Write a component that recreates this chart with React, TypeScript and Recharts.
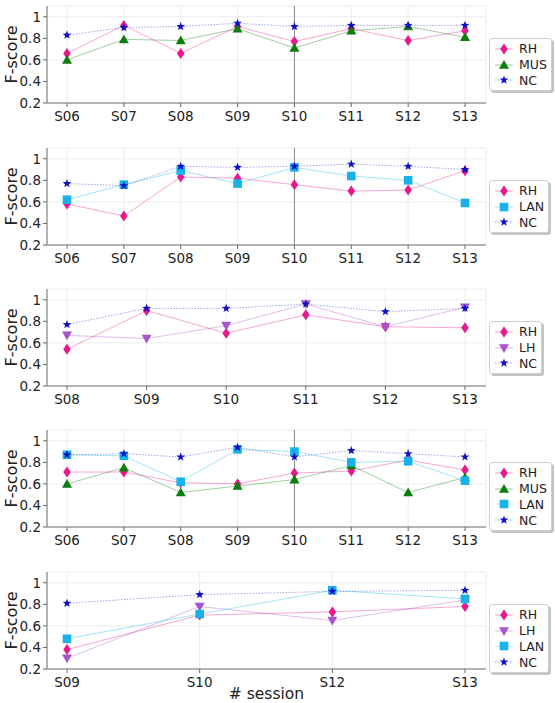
import { LineChart, Line, XAxis, YAxis, CartesianGrid, ReferenceLine, Legend } from 'recharts'

// sessions on each panel's x axis
const sessionsAll = ['S06', 'S07', 'S08', 'S09', 'S10', 'S11', 'S12', 'S13']
const sessionsLate = ['S08', 'S09', 'S10', 'S11', 'S12', 'S13']
const sessionsFew = ['S09', 'S10', 'S12', 'S13']

const yTicks = [0.2, 0.4, 0.6, 0.8, 1]

// panel 1: RH / MUS / NC
const p1RH = [0.66, 0.92, 0.66, 0.91, 0.77, 0.89, 0.78, 0.87]
const p1MUS = [0.6, 0.79, 0.78, 0.89, 0.71, 0.87, 0.91, 0.81]
const p1NC = [0.83, 0.9, 0.91, 0.94, 0.91, 0.92, 0.92, 0.92]

// panel 2: RH / LAN / NC
const p2RH = [0.58, 0.47, 0.83, 0.82, 0.76, 0.7, 0.71, 0.89]
const p2LAN = [0.62, 0.76, 0.89, 0.77, 0.92, 0.84, 0.8, 0.59]
const p2NC = [0.77, 0.75, 0.93, 0.92, 0.93, 0.95, 0.93, 0.9]

// panel 3: RH / LH / NC
const p3RH = [0.54, 0.9, 0.69, 0.86, 0.75, 0.74]
const p3LH = [0.67, 0.64, 0.76, 0.96, 0.75, 0.93]
const p3NC = [0.77, 0.92, 0.92, 0.96, 0.89, 0.92]

// panel 4: RH / MUS / LAN / NC
const p4RH = [0.71, 0.71, 0.61, 0.6, 0.7, 0.72, 0.82, 0.73]
const p4MUS = [0.6, 0.75, 0.52, 0.58, 0.64, 0.77, 0.52, 0.66]
const p4LAN = [0.87, 0.86, 0.62, 0.92, 0.9, 0.8, 0.81, 0.63]
const p4NC = [0.87, 0.88, 0.85, 0.94, 0.85, 0.91, 0.88, 0.85]

// panel 5: RH / LH / LAN / NC
const p5RH = [0.38, 0.7, 0.73, 0.78]
const p5LH = [0.3, 0.78, 0.65, 0.84]
const p5LAN = [0.48, 0.71, 0.93, 0.85]
const p5NC = [0.81, 0.89, 0.92, 0.93]

type Shape = 'diamond' | 'up' | 'down' | 'square' | 'star'

const STYLE: Record<string, { color: string; shape: Shape; dash?: string }> = {
  RH: { color: '#e8198b', shape: 'diamond' },
  MUS: { color: '#0a7d0a', shape: 'up' },
  LAN: { color: '#17b2ea', shape: 'square' },
  LH: { color: '#a654cc', shape: 'down' },
  NC: { color: '#1010c4', shape: 'star', dash: '1.5 1.5' },
}

function starPoints(cx: number, cy: number, ro: number, ri: number) {
  const pts: string[] = []
  for (let i = 0; i < 10; i++) {
    const r = i % 2 === 0 ? ro : ri
    const a = -Math.PI / 2 + (i * Math.PI) / 5
    pts.push(`${cx + r * Math.cos(a)},${cy + r * Math.sin(a)}`)
  }
  return pts.join(' ')
}

function Marker({ shape, cx, cy, color }: { shape: Shape; cx: number; cy: number; color: string }) {
  switch (shape) {
    case 'diamond':
      return <polygon points={`${cx},${cy - 5.5} ${cx + 3.8},${cy} ${cx},${cy + 5.5} ${cx - 3.8},${cy}`} fill={color} />
    case 'up':
      return <polygon points={`${cx},${cy - 5} ${cx + 5},${cy + 3.8} ${cx - 5},${cy + 3.8}`} fill={color} />
    case 'down':
      return <polygon points={`${cx - 5},${cy - 3.8} ${cx + 5},${cy - 3.8} ${cx},${cy + 5}`} fill={color} />
    case 'square':
      return <rect x={cx - 4.3} y={cy - 4.3} width={8.6} height={8.6} fill={color} />
    default:
      return <polygon points={starPoints(cx, cy, 4.6, 1.9)} fill={color} />
  }
}

const dotFor = (name: string) => (p: any) => {
  const st = STYLE[name]
  if (p.cx == null || p.cy == null) return <g key={`${name}-${p.index}`} />
  return (
    <g key={`${name}-${p.index}`}>
      <Marker shape={st.shape} cx={p.cx} cy={p.cy} color={st.color} />
    </g>
  )
}

function LegendBox({ names }: { names: string[] }) {
  return (
    <div
      style={{
        background: '#fff',
        border: '1px solid #cfcfcf',
        borderRadius: 3,
        boxShadow: '2px 2px 0 #c4c4c4',
        padding: '2px 4px 2px 5px',
        fontFamily: '"DejaVu Sans", sans-serif',
        fontSize: 12.5,
        color: '#222',
      }}
    >
      {names.map(n => {
        const st = STYLE[n]
        return (
          <div key={n} style={{ display: 'flex', alignItems: 'center', height: 15.8 }}>
            <svg width={18} height={12} style={{ flex: 'none' }}>
              <line x1={0} y1={6} x2={18} y2={6} stroke={st.color} strokeOpacity={0.4} strokeWidth={1} strokeDasharray={st.dash} />
              <Marker shape={st.shape} cx={9} cy={6} color={st.color} />
            </svg>
            <span style={{ marginLeft: 6, lineHeight: '15px' }}>{n}</span>
          </div>
        )
      })}
    </div>
  )
}

const tickFont = { fontFamily: '"DejaVu Sans", sans-serif', fontSize: 13.5, fill: '#222' }

function Panel({
  sessions,
  series,
  divider,
  xLabel,
}: {
  sessions: string[]
  series: { name: string; values: number[] }[]
  divider?: string
  xLabel?: string
}) {
  const rows = sessions.map((s, i) => {
    const row: Record<string, any> = { session: s }
    series.forEach(sr => (row[sr.name] = sr.values[i]))
    return row
  })
  const frame = '#9c9c9c'
  return (
    <LineChart width={555} height={137} data={rows} margin={{ top: 6, right: 69, left: 0, bottom: 0 }}>
      <CartesianGrid stroke="#ececec" strokeWidth={1} />
      <XAxis
        dataKey="session"
        padding={{ left: 20, right: 21 }}
        height={34}
        tick={tickFont}
        tickSize={4}
        tickMargin={4}
        tickLine={{ stroke: '#666' }}
        axisLine={{ stroke: frame, strokeWidth: 1.5 }}
        interval={0}
        label={
          xLabel
            ? { value: xLabel, position: 'insideBottom', offset: 4, style: { ...tickFont, fontSize: 15.5 } }
            : undefined
        }
      />
      <XAxis xAxisId="top" orientation="top" height={0} tick={false} tickLine={false} axisLine={{ stroke: frame, strokeWidth: 1.5 }} />
      <YAxis
        domain={[0.2, 1.1]}
        ticks={yTicks}
        width={47}
        allowDataOverflow
        tick={tickFont}
        tickSize={4}
        tickMargin={2}
        tickLine={{ stroke: '#666' }}
        axisLine={{ stroke: frame, strokeWidth: 1.5 }}
        tickFormatter={(v: number) => (v === 1 ? '1' : v.toFixed(1))}
        label={{
          value: 'F-score',
          content: ({ viewBox }: any) => {
            const cy = viewBox.y + viewBox.height / 2
            return (
              <text x={11} y={cy} transform={`rotate(-90, 11, ${cy})`} textAnchor="middle" dominantBaseline="central" style={{ ...tickFont, fontSize: 16 }}>
                F-score
              </text>
            )
          },
        }}
      />
      <YAxis yAxisId="right" orientation="right" width={0} tick={false} tickLine={false} axisLine={{ stroke: frame, strokeWidth: 1.5 }} />
      {divider && <ReferenceLine x={divider} stroke="#8a8a8a" strokeWidth={1} />}
      {series.map(sr => (
        <Line
          key={sr.name}
          dataKey={sr.name}
          stroke={STYLE[sr.name].color}
          strokeOpacity={0.38}
          strokeWidth={1}
          strokeDasharray={STYLE[sr.name].dash}
          dot={dotFor(sr.name)}
          activeDot={false}
          isAnimationActive={false}
        />
      ))}
      <Legend
        layout="vertical"
        align="center"
        verticalAlign="middle"
        wrapperStyle={{ left: 489, top: 38, width: 'auto', height: 'auto' }}
        content={() => <LegendBox names={series.map(s => s.name)} />}
      />
    </LineChart>
  )
}

const offsets = [0, 142, 283, 424, 566]

export default function App() {
  return (
    <div style={{ position: 'absolute', left: 0, top: 0, width: 555, height: 703, background: '#fff' }}>
      <div style={{ position: 'absolute', top: offsets[0] }}>
        <Panel
          sessions={sessionsAll}
          divider="S10"
          series={[
            { name: 'RH', values: p1RH },
            { name: 'MUS', values: p1MUS },
            { name: 'NC', values: p1NC },
          ]}
        />
      </div>
      <div style={{ position: 'absolute', top: offsets[1] }}>
        <Panel
          sessions={sessionsAll}
          divider="S10"
          series={[
            { name: 'RH', values: p2RH },
            { name: 'LAN', values: p2LAN },
            { name: 'NC', values: p2NC },
          ]}
        />
      </div>
      <div style={{ position: 'absolute', top: offsets[2] }}>
        <Panel
          sessions={sessionsLate}
          series={[
            { name: 'RH', values: p3RH },
            { name: 'LH', values: p3LH },
            { name: 'NC', values: p3NC },
          ]}
        />
      </div>
      <div style={{ position: 'absolute', top: offsets[3] }}>
        <Panel
          sessions={sessionsAll}
          divider="S10"
          series={[
            { name: 'RH', values: p4RH },
            { name: 'MUS', values: p4MUS },
            { name: 'LAN', values: p4LAN },
            { name: 'NC', values: p4NC },
          ]}
        />
      </div>
      <div style={{ position: 'absolute', top: offsets[4] }}>
        <Panel
          sessions={sessionsFew}
          xLabel="# session"
          series={[
            { name: 'RH', values: p5RH },
            { name: 'LH', values: p5LH },
            { name: 'LAN', values: p5LAN },
            { name: 'NC', values: p5NC },
          ]}
        />
      </div>
    </div>
  )
}
